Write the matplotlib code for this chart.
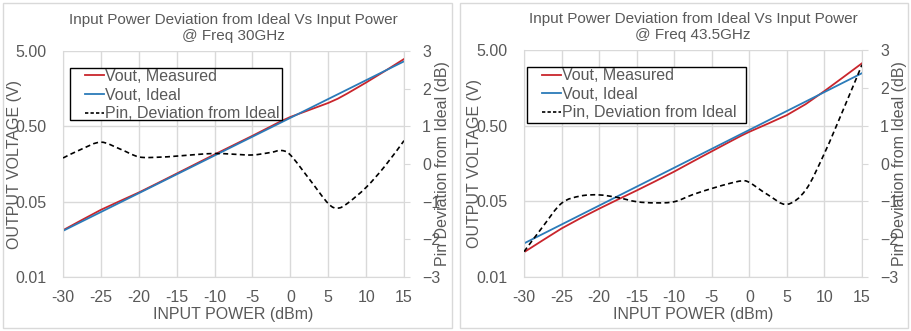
import matplotlib
matplotlib.use("Agg")
import matplotlib.pyplot as plt
from matplotlib.path import Path
from matplotlib.patches import PathPatch, Rectangle

plt.rcParams["font.family"] = ["Liberation Sans", "DejaVu Sans"]

# ---- data: 30 GHz panel ----
p30 = [-30, -27.5, -25, -22.5, -20, -17.5, -15, -12.5, -10, -7.5, -5, -2.5, -1.25,
       0, 2.5, 5, 6.25, 7.5, 10, 12.5, 15]
meas30 = [0.0209, 0.02864, 0.0390, 0.0509, 0.0662, 0.0882, 0.1181, 0.1582, 0.2118,
          0.2817, 0.3747, 0.5035, 0.5846, 0.666, 0.825, 1.022, 1.163, 1.362, 1.909,
          2.719, 3.915]
ideal30 = [0.0205, 0.02735, 0.03645, 0.0486, 0.0648, 0.0864, 0.1153, 0.1537, 0.205,
           0.2735, 0.3645, 0.486, 0.561, 0.648, 0.864, 1.153, 1.331, 1.537, 2.05,
           2.735, 3.645]
dev30 = [0.16, 0.40, 0.58, 0.40, 0.19, 0.18, 0.21, 0.25, 0.28, 0.26, 0.24, 0.31, 0.36,
         0.24, -0.40, -1.05, -1.17, -1.05, -0.62, -0.05, 0.62]

# ---- data: 43.5 GHz panel ----
p43 = [-30, -27.5, -25, -22.5, -20, -17.5, -15, -12.5, -10, -7.5, -5, -2.5, -1,
       0, 2.5, 5, 7.5, 10, 12.5, 15]
meas43 = [0.01063, 0.0153, 0.0219, 0.02986, 0.03995, 0.05288, 0.06956, 0.0924, 0.1237,
          0.1687, 0.2291, 0.3105, 0.3716, 0.4149, 0.5329, 0.6902, 0.9618, 1.434,
          2.184, 3.338]
ideal43 = [0.0139, 0.01854, 0.02471, 0.03296, 0.04395, 0.05862, 0.07816, 0.1042, 0.139,
           0.1854, 0.2471, 0.3296, 0.392, 0.4395, 0.5862, 0.7816, 1.042, 1.39,
           1.854, 2.471]
dev43 = [-2.33, -1.67, -1.05, -0.86, -0.83, -0.90, -1.01, -1.04, -1.01, -0.82, -0.66,
         -0.52, -0.46, -0.50, -0.83, -1.08, -0.70, 0.27, 1.42, 2.61]

titles = ["Input Power Deviation from Ideal Vs Input Power\n@ Freq 30GHz",
          "Input Power Deviation from Ideal Vs Input Power\n@ Freq 43.5GHz"]
left_ticks = [0.005, 0.05, 0.5, 5]
left_labels = ["0.01", "0.05", "0.50", "5.00"]
x_ticks = [-30, -25, -20, -15, -10, -5, 0, 5, 10, 15]
right_ticks = [-3, -2, -1, 0, 1, 2, 3]

RED = "#c9252c"
BLUE = "#2b7bb9"
GRID = "#d9d9d9"
TXT = "#595959"


def smooth_path(x, y):
    # Excel-style smoothed line: cubic Bezier through the points
    verts = [(x[0], y[0])]
    codes = [Path.MOVETO]
    n = len(x)
    for i in range(n - 1):
        x0, y0 = x[max(i - 1, 0)], y[max(i - 1, 0)]
        x1, y1 = x[i], y[i]
        x2, y2 = x[i + 1], y[i + 1]
        x3, y3 = x[min(i + 2, n - 1)], y[min(i + 2, n - 1)]
        c1 = (x1 + (x2 - x0) / 6, y1 + (y2 - y0) / 6)
        c2 = (x2 - (x3 - x1) / 6, y2 - (y3 - y1) / 6)
        verts += [c1, c2, (x2, y2)]
        codes += [Path.CURVE4] * 3
    return Path(verts, codes)


def draw_panel(fig, rect, p, meas, ideal, dev, title, frame, legbox, ylab_x):
    fig.add_artist(Rectangle(frame[:2], frame[2], frame[3], transform=fig.transFigure,
                             fill=False, edgecolor=GRID, linewidth=1.0))
    ax = fig.add_axes(rect)
    ax.set_yscale("log")
    ax.set_xlim(-30, 15)
    ax.set_ylim(0.005, 5)
    ax.set_xticks(x_ticks)
    ax.set_xticklabels([str(t) for t in x_ticks])
    ax.set_yticks(left_ticks)
    ax.set_yticklabels(left_labels)
    ax.minorticks_off()
    ax.grid(True, color=GRID, linewidth=1.0)
    ax.set_axisbelow(True)
    ax.tick_params(axis="both", length=0, labelsize=11.5, labelcolor=TXT)
    ax.tick_params(axis="x", pad=9)
    ax.tick_params(axis="y", pad=12)
    for s in ["top", "right"]:
        ax.spines[s].set_visible(False)
    for s in ["left", "bottom"]:
        ax.spines[s].set_color(GRID)

    l1, = ax.plot(p, meas, color=RED, lw=1.3, label="Vout, Measured")
    l2, = ax.plot(p, ideal, color=BLUE, lw=1.3, label="Vout, Ideal")
    ax.set_xlabel("INPUT POWER (dBm)", fontsize=11.5, color=TXT, labelpad=2)
    ax.set_ylabel("OUTPUT VOLTAGE (V)", fontsize=11.5, color=TXT)
    ax.yaxis.set_label_coords(ylab_x[0], 0.5)
    ax.set_title(title, fontsize=11, color=TXT, pad=8, linespacing=1.15)

    ax2 = ax.twinx()
    ax2.set_ylim(-3, 3)
    ax2.set_yticks(right_ticks)
    ax2.tick_params(axis="y", length=4, color=GRID, labelsize=11.5, labelcolor=TXT, pad=9)
    for s in ["top", "left", "bottom"]:
        ax2.spines[s].set_visible(False)
    ax2.spines["right"].set_color(GRID)
    ax2.add_patch(PathPatch(smooth_path(p, dev), fill=False, edgecolor="black",
                            linestyle=(0, (3, 2)), linewidth=1.2))
    l3, = ax2.plot([], [], color="black", linestyle=(0, (2, 1.3)), lw=1.2,
                   label="Pin, Deviation from Ideal")
    ax2.set_ylabel("Pin Deviation from Ideal (dB)", fontsize=11.5, color=TXT)
    ax2.yaxis.set_label_coords(ylab_x[1], 0.5)

    # legend box drawn separately (Excel pads it wider than tall)
    x0, y0, x1, y1 = legbox
    ax2.add_patch(Rectangle((x0, y0), x1 - x0, y1 - y0, transform=ax2.transAxes,
                            facecolor="white", edgecolor="black", linewidth=1.0, zorder=4))
    leg = ax2.legend(handles=[l1, l2, l3], loc="upper left",
                     bbox_to_anchor=(x0 + 0.043, y1 - 0.005),
                     borderaxespad=0, borderpad=0, fontsize=11.5, frameon=False,
                     handlelength=1.2, handletextpad=0.05, labelspacing=0.22,
                     labelcolor=TXT)
    leg.set_zorder(5)
    return ax


fig = plt.figure(figsize=(9.11, 3.31), dpi=100)
draw_panel(fig, [0.0692, 0.1631, 0.3743, 0.6828], p30, meas30, ideal30, dev30, titles[0],
           (0.003, 0.01, 0.493, 0.98), (0.0205, 0.695, 0.642, 0.925), (-0.12, 1.09))
draw_panel(fig, [0.5752, 0.1631, 0.3710, 0.6858], p43, meas43, ideal43, dev43, titles[1],
           (0.505, 0.01, 0.492, 0.98), (0.009, 0.678, 0.657, 0.925), (-0.123, 1.09))
fig.savefig("out.png", dpi=100)
